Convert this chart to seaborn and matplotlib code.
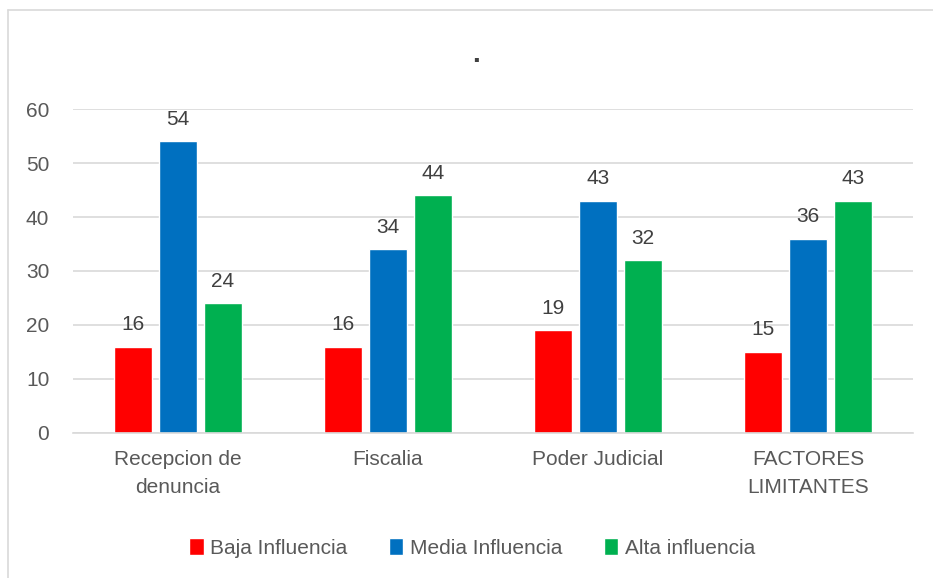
import pandas as pd
import seaborn as sns
import matplotlib.pyplot as plt
from matplotlib.lines import Line2D

categories = ['Recepcion de\ndenuncia', 'Fiscalia', 'Poder Judicial', 'FACTORES\nLIMITANTES']
series = ['Baja Influencia', 'Media Influencia', 'Alta influencia']
baja = [16, 16, 19, 15]
media = [54, 34, 43, 36]
alta = [24, 44, 32, 43]
colors = ['#FF0000', '#0070C0', '#00B050']

df = pd.DataFrame({
    'Categoria': categories * 3,
    'Serie': [s for s in series for _ in categories],
    'Valor': baja + media + alta,
})

sns.set_style('white')
plt.rcParams['font.family'] = ['Liberation Sans', 'DejaVu Sans']
text_color = '#595959'

fig = plt.figure(figsize=(9.33, 5.78), dpi=100)
ax = fig.add_axes([0.0782, 0.2509, 0.9004, 0.5605])

sns.barplot(data=df, x='Categoria', y='Valor', hue='Serie', palette=colors,
            width=0.64, gap=0.15, saturation=1, ax=ax)

for cont in ax.containers:
    ax.bar_label(cont, padding=9, fontsize=15, color='#404040')

ax.set_ylim(0, 60)
ax.set_yticks(range(0, 61, 10))
ax.yaxis.grid(True, color='#D9D9D9', linewidth=1.2)
ax.set_axisbelow(True)
for s in ['top', 'right', 'left']:
    ax.spines[s].set_visible(False)
ax.spines['bottom'].set_color('#D9D9D9')
ax.spines['bottom'].set_linewidth(1.2)
ax.tick_params(axis='both', length=0, labelsize=15, labelcolor=text_color)
ax.tick_params(axis='x', pad=12)
ax.tick_params(axis='y', pad=17)
for lbl in ax.get_xticklabels():
    lbl.set_linespacing(1.6)
ax.set_xlabel('')
ax.set_ylabel('')

ax.set_title('.', fontsize=20, fontweight='bold', color='#404040', x=0.48, pad=34)

handles, labels = ax.get_legend_handles_labels()
ax.legend(handles, labels, loc='center', bbox_to_anchor=(0.475, -0.355),
          ncol=3, frameon=False, fontsize=15, labelcolor=text_color,
          handlelength=0.7, handleheight=0.9, handletextpad=0.3, columnspacing=2.0)

# chart border (top and left edges visible in the crop)
fig.add_artist(Line2D([8 / 933, 1], [1 - 10 / 578, 1 - 10 / 578], color='#D9D9D9', lw=1.2, transform=fig.transFigure))
fig.add_artist(Line2D([8 / 933, 8 / 933], [0, 1 - 10 / 578], color='#D9D9D9', lw=1.2, transform=fig.transFigure))

fig.savefig('out.png', dpi=100, facecolor='white')
